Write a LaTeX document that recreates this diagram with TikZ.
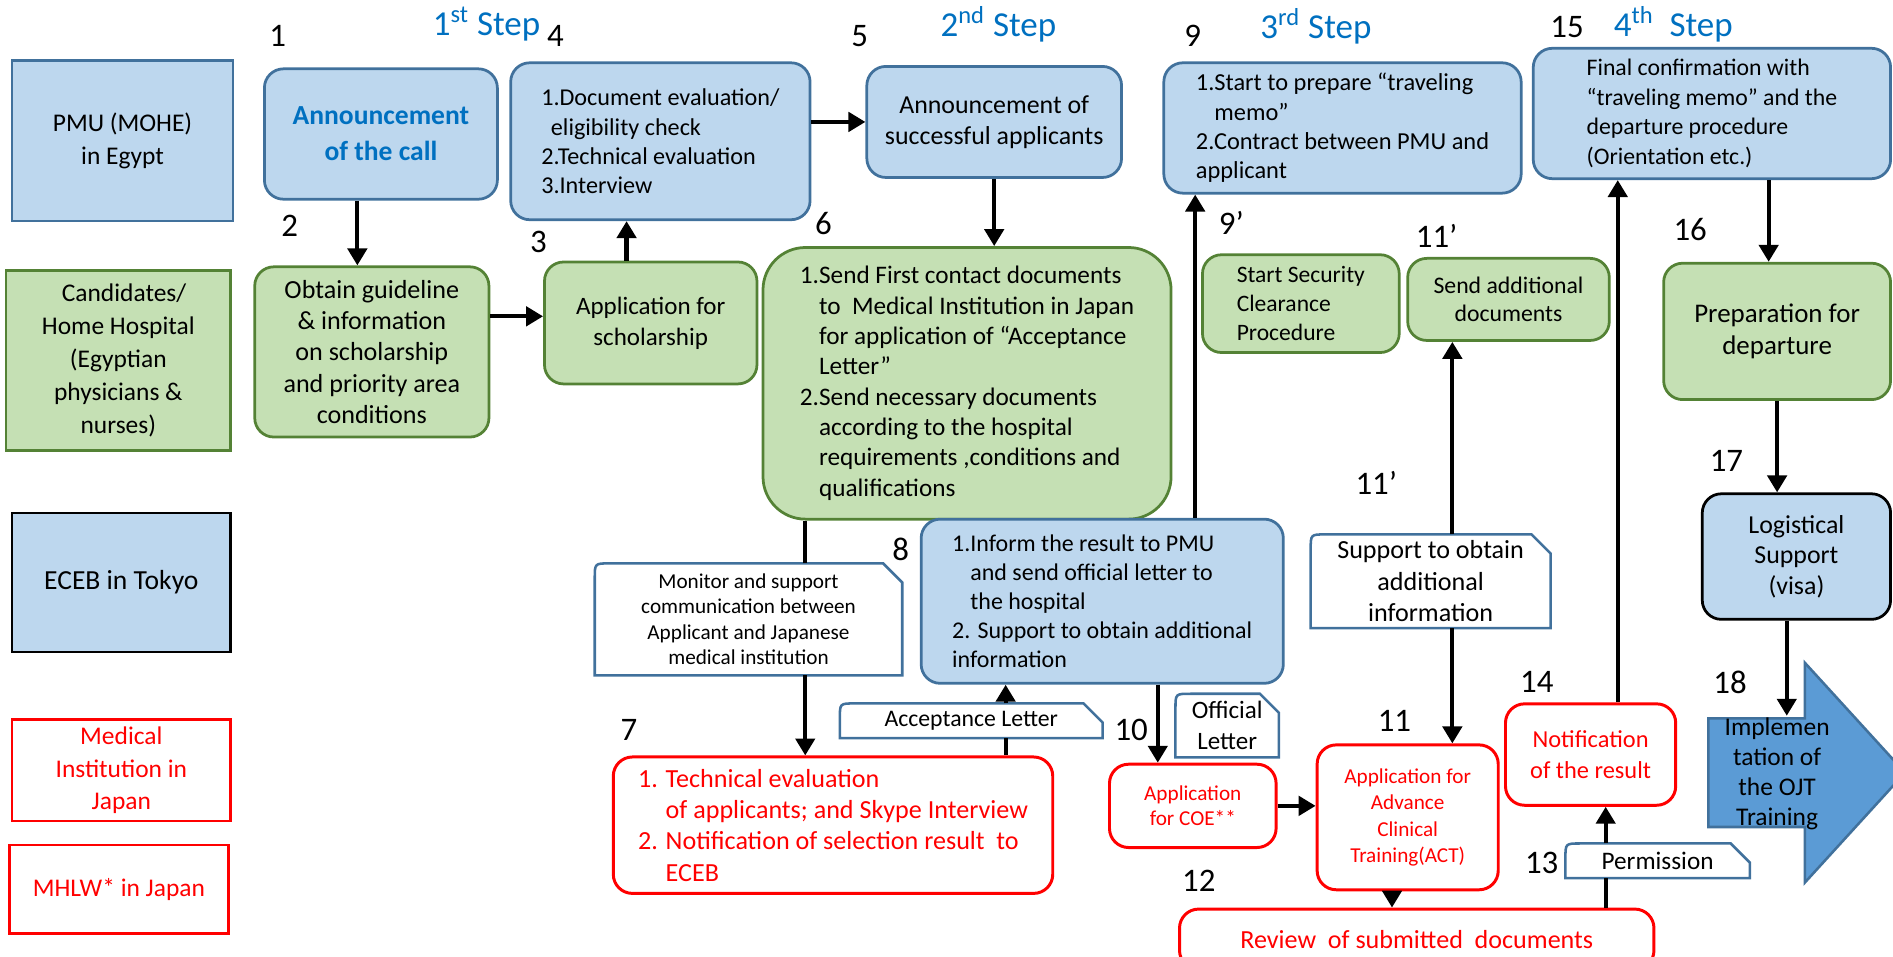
\documentclass[tikz,border=0pt]{standalone}
\usepackage{fontspec}
\setmainfont{Carlito}
\usetikzlibrary{arrows.meta}

\definecolor{bluefill}{HTML}{BDD7EE}
\definecolor{bluebd}{HTML}{41719C}
\definecolor{greenfill}{HTML}{C5E0B4}
\definecolor{greenbd}{HTML}{548235}
\definecolor{stepblue}{HTML}{0070C0}
\definecolor{ojtblue}{HTML}{5B9BD5}
\definecolor{jred}{HTML}{FF0000}

\newcommand{\ind}{\hphantom{1.}}
\newcommand{\indd}{\hphantom{1. }}
\newcommand{\fsz}[2]{\fontsize{#1}{#2}\selectfont}
% frame with one round and one cut corner on top
\newcommand{\snipframe}[1]{%
  \draw[bluebd, line width=1.2pt] (#1.south west) -- ([yshift=-7pt]#1.north west)
    .. controls (#1.north west) .. ([xshift=7pt]#1.north west)
    -- ([xshift=-9pt]#1.north east) -- ([yshift=-9pt]#1.north east)
    -- (#1.south east) -- cycle;}

\begin{document}
\begin{tikzpicture}
[x=0.02cm, y=-0.02cm,
 every node/.style={inner sep=1pt, font=\fsz{12}{14.5}},
 wh/.style 2 args={minimum width=#1*0.02cm, minimum height=#2*0.02cm},
 lane/.style={rectangle, line width=1.3pt, align=center, font=\fsz{12}{15.5}},
 bluebox/.style={rectangle, rounded corners=9pt, draw=bluebd, fill=bluefill, line width=1.3pt},
 greenbox/.style={rectangle, rounded corners=9pt, draw=greenbd, fill=greenfill, line width=1.3pt},
 redbox/.style={rectangle, rounded corners=9pt, draw=jred, line width=1.4pt, text=jred},
 callout/.style={rectangle, align=center},
 num/.style={font=\fsz{15.5}{18}},
 steptitle/.style={text=stepblue, font=\fsz{16.5}{19}},
 flow/.style={line width=2pt, -{Triangle[length=8pt,width=9pt]}},
 link/.style={line width=2pt}]

\useasboundingbox (0,0) rectangle (1568,792);

% who does what
\node[lane, draw=bluebd, fill=bluefill, wh={183}{133}] (pmu) at (101.5,116.5) {PMU (MOHE)\\in Egypt};
\node[lane, draw=greenbd, fill=greenfill, wh={186}{149}] (cand) at (98,298.5) {\ \ Candidates/\\Home Hospital\\(Egyptian\\physicians \&\\nurses)};
\node[lane, draw=black, fill=bluefill, wh={181}{115}, font=\fsz{13}{16}] (eceb) at (100.5,482.5) {ECEB in Tokyo};
\node[lane, draw=jred, text=jred, wh={181}{84}] (medj) at (100.5,638) {Medical\\Institution in\\Japan};
\node[lane, draw=jred, text=jred, wh={181}{73}] (mhlw) at (98.5,736.5) {MHLW* in Japan};

\node[steptitle] (st1) at (403,20) {1\textsuperscript{st} Step};
\node[steptitle] (st2) at (827,20) {2\textsuperscript{nd} Step};
\node[steptitle] (st3) at (1090,22) {3\textsuperscript{rd} Step};
\node[steptitle] (st4) at (1386,20) {4\textsuperscript{th}\ \ Step};

\node[num] (n1) at (230,30) {1};
\node[num] (n2) at (240,187) {2};
\node[num] (n3) at (446,200) {3};
\node[num] (n4) at (460,30) {4};
\node[num] (n5) at (712,30) {5};
\node[num] (n6) at (682,185) {6};
\node[num] (n7) at (521,605) {7};
\node[num] (n8) at (746,455) {8};
\node[num] (n9) at (988,30) {9};
\node[num] (n9p) at (1020,185) {9'};
\node[num] (n10) at (937,605) {10};
\node[num] (n11) at (1155,597) {11};
\node[num] (n11p) at (1190,195) {11'};
\node[num] (n11q) at (1140,400) {11'};
\node[num] (n12) at (993,730) {12};
\node[num] (n13) at (1277,715) {13};
\node[num] (n14) at (1273,565) {14};
\node[num] (n15) at (1298,22) {15};
\node[num] (n16) at (1400,190) {16};
\node[num] (n17) at (1430,382) {17};
\node[num] (n18) at (1433,565) {18};

% PMU row
\node[bluebox, wh={193}{108}, align=center, text=stepblue, font=\fsz{13}{17}\bfseries] (s1) at (315.5,111) {Announcement\\of the call};
\node[bluebox, wh={248}{130}, align=left, font=\fsz{11.4}{13.7}] (s4) at (547,117) {1.Document evaluation/\\\hspace*{0.4em}eligibility check\\2.Technical evaluation\\3.Interview};
\node[bluebox, wh={211}{92}, align=center, font=\fsz{12.2}{14.8}] (s5) at (823.5,101) {Announcement of\\successful applicants};
\node[bluebox, wh={296}{108}, align=left, font=\fsz{11.5}{13.8}] (s9) at (1112,106) {1.Start to prepare “traveling\\\ind memo”\\2.Contract between PMU and\\applicant};
\node[bluebox, wh={296}{108}, align=left, font=\fsz{11.2}{14}] (s15) at (1418,94) {Final confirmation with\\“traveling memo” and the\\departure procedure\\(Orientation etc.)};

% candidates row
\node[greenbox, wh={194}{141}, align=center, font=\fsz{12.3}{14.8}] (s2) at (308,291.5) {Obtain guideline\\\& information\\on scholarship\\and priority area\\conditions};
\node[greenbox, wh={176}{101}, align=center, font=\fsz{11.8}{14.5}] (s3) at (539,267.5) {Application for\\scholarship};
\node[greenbox, rounded corners=20pt, wh={338}{225}, align=left, font=\fsz{11.9}{14.3}] (s6) at (801,317.5) {1.Send First contact documents\\\ind to\ \ Medical Institution in Japan\\\ind for\ application\ of “Acceptance\\\ind Letter”\\2.Send necessary\ documents\\\ind according to the hospital\\\ind requirements ,conditions and\\\ind qualifications};
\node[greenbox, wh={163}{81}, align=left, font=\fsz{11.1}{13.7}] (s9p) at (1077.5,251.5) {Start Security\\Clearance\\Procedure};
\node[greenbox, wh={167}{68}, align=center, font=\fsz{11.2}{13.4}] (s11p) at (1249.5,248) {Send additional\\documents};
\node[greenbox, wh={188}{113}, align=center, font=\fsz{12.7}{15}] (s16) at (1472,274.5) {Preparation for\\departure};

% ECEB row
\node[bluebox, wh={300}{136}, align=left, font=\fsz{11.3}{13.7}] (s8) at (913,498) {1.Inform the result to PMU\\\ind and send official letter to\\\ind the hospital\\2. Support to obtain additional\\information};
\node[bluebox, draw=black, wh={156}{104}, align=center, font=\fsz{12.2}{14.5}] (s17) at (1488,461) {Logistical\\Support\\(visa)};
\node[callout, wh={254}{92}, font=\fsz{10}{12}] (mon) at (620,513) {Monitor and support\\communication between\\Applicant and Japanese\\medical institution};
\node[callout, wh={198}{77}, font=\fsz{12.3}{14.8}] (sup) at (1185,481.5) {Support to obtain\\additional\\information};
\node[callout, wh={217}{28}, font=\fsz{11.2}{14}] (acc) at (804.5,597) {Acceptance Letter};
\node[callout, wh={85}{52}, font=\fsz{11.8}{14.8}] (off) at (1016.5,601) {Official\\Letter};
\node[callout, wh={152}{28}, font=\fsz{11.9}{14}] (perm) at (1373,713) {Permission};
\snipframe{mon}
\snipframe{sup}
\snipframe{acc}
\snipframe{off}
\snipframe{perm}

% Japan side
\node[redbox, wh={364}{113}, align=left, font=\fsz{12.3}{14.8}] (s7) at (690,683.5) {1. Technical evaluation\\\indd of applicants; and Skype Interview\\2. Notification of selection result\ \ to\\\indd ECEB};
\node[redbox, wh={138}{69}, align=center, font=\fsz{10}{12}] (s10) at (988,667.5) {Application\\for COE**};
\node[redbox, wh={150}{120}, align=center, font=\fsz{10}{12.5}] (s11) at (1166,677) {Application for\\Advance\\Clinical\\Training(ACT)};
\node[redbox, wh={141}{84}, align=center, font=\fsz{11.5}{14.5}] (s14) at (1317.5,625) {Notification\\of the result};
\node[redbox, wh={393}{50}, font=\fsz{12.3}{15}] (s12) at (1173.5,778) {Review\ \ of submitted\ \ documents};

% OJT arrow
\draw[draw=bluebd, fill=ojtblue, line width=1.2pt] (1415,595) -- (1495,595) -- (1495,549) -- (1578,640) -- (1495,731) -- (1495,685) -- (1415,685) -- cycle;
\node[align=center, wh={80}{90}, font=\fsz{12}{14}] (ojt) at (1472,641) {Implemen\\tation of\\the OJT\\Training};

\draw[flow] ([xshift=-0.39cm]s1.south) -- ([xshift=-0.39cm]s1.south |- s2.north);
\draw[flow] ([yshift=0.59cm]s2.east) -- ([yshift=0.59cm]s2.east -| s3.west);
\draw[flow] ([xshift=-0.4cm]s3.north) -- ([xshift=-0.4cm]s3.north |- s4.south);
\draw[flow] (s4.east |- s5.west) -- (s5.west);
\draw[flow] (s5.south) -- (s5.south |- s6.north);
\draw[link] ([xshift=0.94cm]mon.north) -- ([xshift=0.94cm]mon.north |- s6.south);
\draw[flow] ([xshift=0.94cm]mon.south) -- ([xshift=0.94cm]mon.south |- s7.north);
\draw[link] ([xshift=0.57cm]acc.south) -- ([xshift=0.57cm]acc.south |- s7.north);
\draw[flow] ([xshift=0.57cm]acc.north) -- ([xshift=0.57cm]acc.north |- s8.south);
\draw[flow] ([xshift=1.54cm]s8.north) -- ([xshift=1.54cm]s8.north |- s9.south);
\draw[flow] ([xshift=-0.58cm]s10.north |- s8.south) -- ([xshift=-0.58cm]s10.north);
\draw[flow] (s10.east) -- (s10.east -| s11.west);
\draw[flow] ([xshift=0.36cm]sup.north) -- ([xshift=0.36cm]sup.north |- s11p.south);
\draw[flow] ([xshift=0.36cm]sup.south) -- ([xshift=0.36cm]sup.south |- s11.north);
\draw[flow] ([xshift=-0.26cm]s11.south) -- ([xshift=-0.26cm]s11.south |- s12.north);
\draw[link] ([xshift=-0.86cm]perm.south) -- ([xshift=-0.86cm]perm.south |- s12.north);
\draw[flow] ([xshift=-0.86cm]perm.north) -- ([xshift=-0.86cm]perm.north |- s14.south);
\draw[flow] ([xshift=0.45cm]s14.north) -- ([xshift=0.45cm]s14.north |- s15.south);
\draw[flow] ([xshift=-0.14cm]s16.north |- s15.south) -- ([xshift=-0.14cm]s16.north);
\draw[flow] (s16.south) -- (s16.south |- s17.north);
\draw[flow] ([xshift=-0.16cm]s17.south) -- ([xshift=-0.16cm]s17.south |- ojt.north);
\end{tikzpicture}
\end{document}
